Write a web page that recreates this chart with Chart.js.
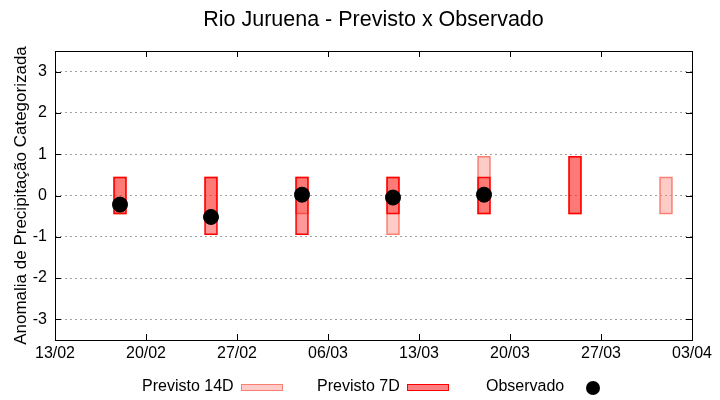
<!DOCTYPE html>
<html>
<head>
<meta charset="utf-8">
<script src="https://cdn.jsdelivr.net/npm/chart.js@4"></script>
<style>
  body { margin: 0; background: #fff; }
  #wrap { width: 720px; height: 400px; }
</style>
</head>
<body>
<div id="wrap"><canvas id="c_juruena"></canvas></div>
<script>
// dias contados a partir de 13/02
const xTickDays = [0, 7, 14, 21, 28, 35, 42, 49];
const xTickLabels = ['13/02', '20/02', '27/02', '06/03', '13/03', '20/03', '27/03', '03/04'];
const yTicks = [-3, -2, -1, 0, 1, 2, 3];

const days = [5, 12, 19, 26, 33, 40, 47];
const prev14 = [[-0.45, 0.45], [-0.45, 0.45], [-0.45, 0.45], [-0.95, 0.45], [-0.45, 0.95], [-0.45, 0.95], [-0.45, 0.45]];
const prev7 = [[-0.45, 0.45], [-0.95, 0.45], [-0.95, 0.45], [-0.45, 0.45], [-0.45, 0.45], [-0.45, 0.95], null];
const observado = [-0.22, -0.52, 0.02, -0.05, 0.02, null, null];

const c_juruena = document.getElementById('c_juruena');

function toPoints(arr) {
    return days.map((d, i) => ({ x: d, y: arr[i] })).filter(p => p.y !== null);
}

const FONT = 'Liberation Sans, Arial, sans-serif';

var extras = {
    id: 'extras',
    afterDraw: (chart) => {
        const ctx = chart.ctx;
        const a = chart.chartArea;
        ctx.save();
        // ticks para dentro
        ctx.strokeStyle = 'black';
        ctx.lineWidth = 1;
        ctx.beginPath();
        chart.scales.y.ticks.forEach(t => {
            const py = Math.round(chart.scales.y.getPixelForValue(t.value)) + 0.5;
            ctx.moveTo(a.left, py); ctx.lineTo(a.left + 6, py);
            ctx.moveTo(a.right, py); ctx.lineTo(a.right - 6, py);
        });
        chart.scales.x.ticks.forEach(t => {
            const px = Math.round(chart.scales.x.getPixelForValue(t.value)) + 0.5;
            ctx.moveTo(px, a.bottom); ctx.lineTo(px, a.bottom - 6);
            ctx.moveTo(px, a.top); ctx.lineTo(px, a.top + 6);
        });
        ctx.stroke();
        ctx.strokeRect(Math.round(a.left) + 0.5, Math.round(a.top) + 0.5, Math.round(a.right - a.left), Math.round(a.bottom - a.top));

        // titulo
        ctx.fillStyle = 'black';
        ctx.font = '21.5px ' + FONT;
        ctx.textAlign = 'center';
        ctx.textBaseline = 'middle';
        ctx.fillText('Rio Juruena - Previsto x Observado', (a.left + a.right) / 2, 20);

        // legenda
        ctx.font = '16px ' + FONT;
        ctx.textAlign = 'left';
        ctx.fillText('Previsto 14D', 142, 387);
        ctx.fillText('Previsto 7D', 317, 387);
        ctx.fillText('Observado', 486, 387);
        ctx.fillStyle = 'rgb(253,204,200)';
        ctx.fillRect(241, 384, 41, 6);
        ctx.strokeStyle = 'salmon';
        ctx.strokeRect(241.5, 384.5, 41, 6);
        ctx.fillStyle = 'rgb(255,128,128)';
        ctx.fillRect(407, 384, 41, 6);
        ctx.strokeStyle = 'red';
        ctx.strokeRect(407.5, 384.5, 41, 6);
        ctx.fillStyle = 'black';
        ctx.beginPath();
        ctx.arc(593, 388, 7, 0, Math.PI * 2);
        ctx.fill();
        ctx.restore();
    }
};

var juruena_data = {
    type: 'bar',
    data: {
        datasets: [
            {
                type: 'line',
                label: 'Observado',
                data: toPoints(observado),
                showLine: false,
                pointRadius: 7.5,
                pointBackgroundColor: 'black',
                pointBorderColor: 'black',
                order: 0
            },
            {
                label: 'Previsto 7D',
                data: toPoints(prev7),
                backgroundColor: 'rgba(255,0,0,0.4)',
                borderColor: 'red',
                borderWidth: 1,
                borderSkipped: false,
                barThickness: 13,
                grouped: false,
                order: 1
            },
            {
                label: 'Previsto 14D',
                data: toPoints(prev14),
                backgroundColor: 'rgba(250,128,114,0.4)',
                borderColor: 'salmon',
                borderWidth: 1,
                borderSkipped: false,
                barThickness: 13,
                grouped: false,
                order: 2
            }
        ]
    },
    options: {
        responsive: false,
        animation: false,
        layout: {
            padding: { top: 51, right: 28, bottom: 35, left: 0 }
        },
        plugins: {
            legend: { display: false },
            title: { display: false },
            tooltip: { enabled: false }
        },
        scales: {
            x: {
                type: 'linear',
                offset: false,
                min: 0,
                max: 49,
                afterBuildTicks: (scale) => {
                    scale.ticks = xTickDays.map(v => ({ value: v }));
                },
                afterFit: (scale) => { scale.height = 25; },
                ticks: {
                    color: 'black',
                    font: { size: 16, family: FONT },
                    padding: 4,
                    maxRotation: 0,
                    callback: (v) => xTickLabels[xTickDays.indexOf(v)]
                },
                grid: { display: false, drawTicks: false, offset: false },
                border: { display: false }
            },
            y: {
                min: -3.5,
                max: 3.5,
                afterBuildTicks: (scale) => {
                    scale.ticks = yTicks.map(v => ({ value: v }));
                },
                afterFit: (scale) => { scale.width = 55; },
                ticks: {
                    color: 'black',
                    font: { size: 16, family: FONT },
                    padding: 8
                },
                grid: {
                    drawTicks: false,
                    color: '#a0a0a0',
                    lineWidth: 1
                },
                border: { display: false, dash: [2, 3] },
                title: {
                    display: true,
                    text: 'Anomalia de Precipitação Categorizada',
                    color: 'black',
                    font: { size: 17, family: FONT },
                    padding: { top: 11, bottom: 0 }
                }
            }
        }
    },
    plugins: [extras]
};

c_juruena.width = 720;
c_juruena.height = 400;
var chart_juruena = new Chart(c_juruena, juruena_data);
</script>
</body>
</html>
